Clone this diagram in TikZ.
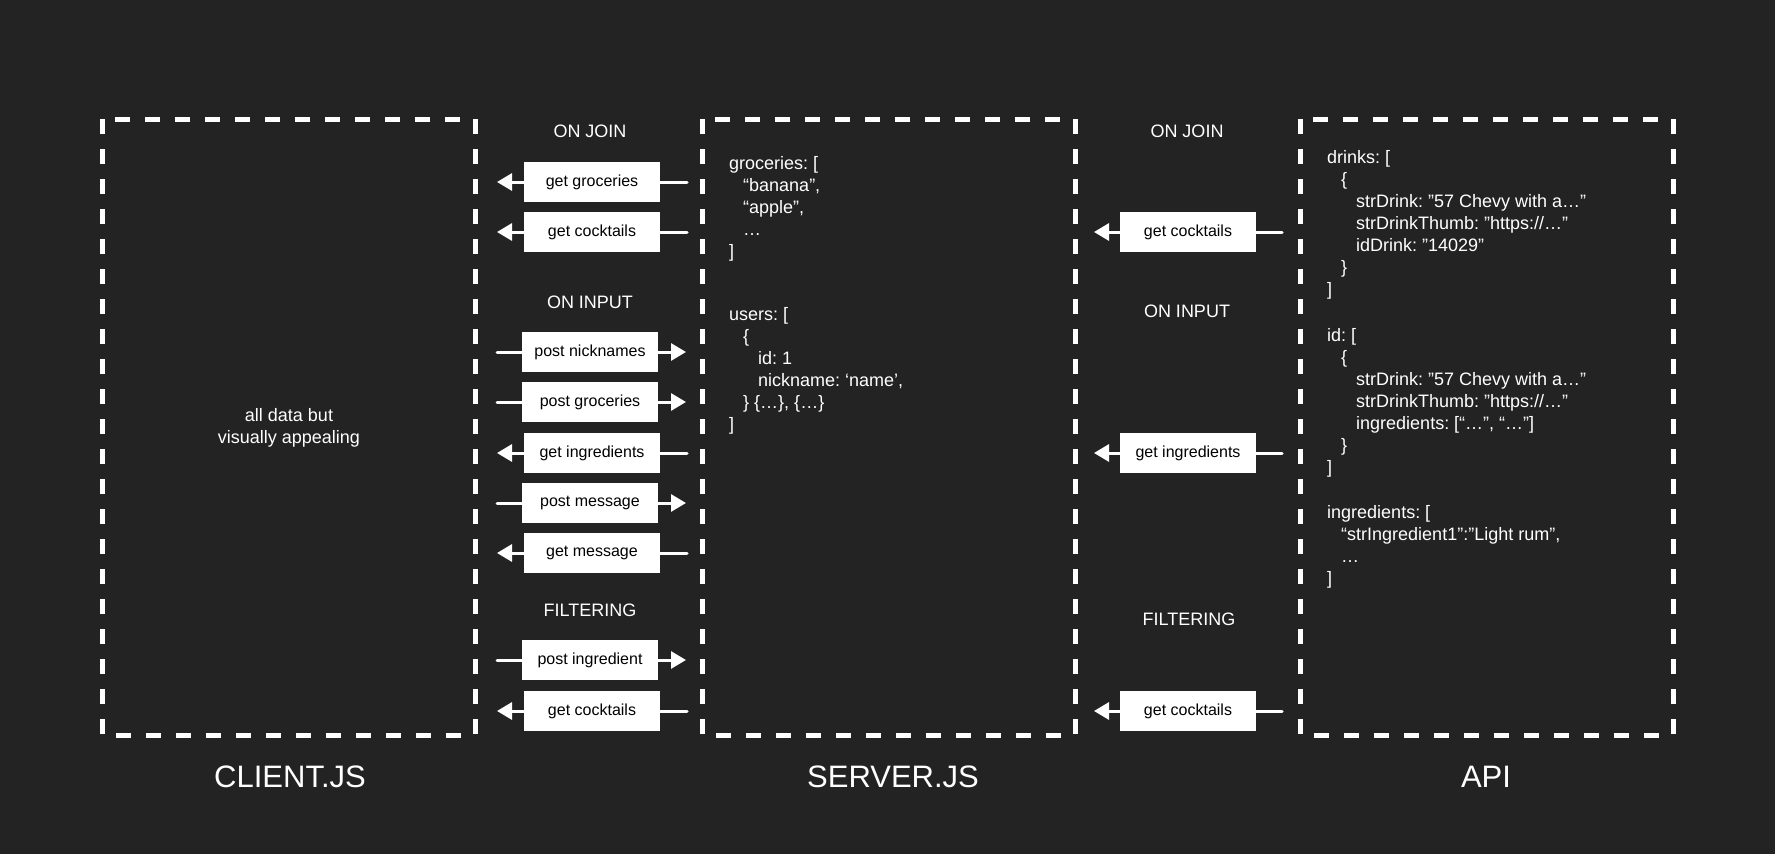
\documentclass[tikz,border=0pt]{standalone}
\usepackage{fontspec}
\setmainfont{Liberation Sans}
\usetikzlibrary{arrows.meta}
\definecolor{bgdark}{RGB}{35,35,35}
\frenchspacing

\begin{document}
\begin{tikzpicture}[x=1pt,y=-1pt,
    part/.style={draw=white,line width=5pt,dash pattern=on 15pt off 15pt},
    call/.style={fill=white,text=black,font=\fontsize{16}{19}\selectfont,
      minimum width=136pt,minimum height=40pt,inner sep=0pt},
    event/.style={text=white,font=\fontsize{18}{22}\selectfont},
    code/.style={text=white,font=\fontsize{18}{22}\selectfont,align=left,
      anchor=north west,inner sep=0pt},
    title/.style={text=white,font=\fontsize{31}{36}\selectfont},
    wire/.style={draw=white,line width=3pt,line cap=round},
    flow/.style={wire,-{Triangle[width=17pt,length=15pt]}}]
  \useasboundingbox[fill=bgdark] (0,0) rectangle (1775,854);
  % the three parts
  \draw[part] (102,119) rectangle (475,735);
  \draw[part] (702,119) rectangle (1075,735);
  \draw[part] (1300,119) rectangle (1673,735);
  \node[title] (client) at (290,777) {CLIENT.JS};
  \node[title] (server) at (893,777) {SERVER.JS};
  \node[title] (api) at (1486,777) {API};
  \node[event,align=center] (view) at (289,428) {all data but\\visually appealing};
  % client <-> server
  \node[event] (join1) at (590,131) {ON JOIN};
  \node[event] (input1) at (590,302) {ON INPUT};
  \node[event] (filter1) at (590,610) {FILTERING};
  \coordinate (gg-c) at (497,182); \coordinate (gg-s) at (687,182);
  \coordinate (gc-c) at (497,232); \coordinate (gc-s) at (687,232);
  \coordinate (pn-c) at (497,352); \coordinate (pn-s) at (686,352);
  \coordinate (pg-c) at (497,402); \coordinate (pg-s) at (686,402);
  \coordinate (gi-c) at (497,453); \coordinate (gi-s) at (687,453);
  \coordinate (pm-c) at (497,503); \coordinate (pm-s) at (686,503);
  \coordinate (gm-c) at (497,553); \coordinate (gm-s) at (687,553);
  \coordinate (pi-c) at (497,660); \coordinate (pi-s) at (686,660);
  \coordinate (gf-c) at (497,711); \coordinate (gf-s) at (687,711);
  \node[call] (gg) at (592,182) {get groceries};
  \node[call] (gc) at (592,232) {get cocktails};
  \node[call] (pn) at (590,352) {post nicknames};
  \node[call] (pg) at (590,402) {post groceries};
  \node[call] (gi) at (592,453) {get ingredients};
  \node[call] (pm) at (590,503) {post message};
  \node[call] (gm) at (592,553) {get message};
  \node[call] (pi) at (590,660) {post ingredient};
  \node[call] (gf) at (592,711) {get cocktails};
  \draw[wire] (gg-s) -- (gg); \draw[flow] (gg) -- (gg-c);
  \draw[wire] (gc-s) -- (gc); \draw[flow] (gc) -- (gc-c);
  \draw[wire] (pn-c) -- (pn); \draw[flow] (pn) -- (pn-s);
  \draw[wire] (pg-c) -- (pg); \draw[flow] (pg) -- (pg-s);
  \draw[wire] (gi-s) -- (gi); \draw[flow] (gi) -- (gi-c);
  \draw[wire] (pm-c) -- (pm); \draw[flow] (pm) -- (pm-s);
  \draw[wire] (gm-s) -- (gm); \draw[flow] (gm) -- (gm-c);
  \draw[wire] (pi-c) -- (pi); \draw[flow] (pi) -- (pi-s);
  \draw[wire] (gf-s) -- (gf); \draw[flow] (gf) -- (gf-c);
  % server <-> api
  \node[event] (join2) at (1187,131) {ON JOIN};
  \node[event] (input2) at (1187,311) {ON INPUT};
  \node[event] (filter2) at (1189,619) {FILTERING};
  \coordinate (ac-s) at (1094,232); \coordinate (ac-a) at (1282,232);
  \coordinate (ai-s) at (1094,453); \coordinate (ai-a) at (1282,453);
  \coordinate (af-s) at (1094,711); \coordinate (af-a) at (1282,711);
  \node[call] (ac) at (1188,232) {get cocktails};
  \node[call] (ai) at (1188,453) {get ingredients};
  \node[call] (af) at (1188,711) {get cocktails};
  \draw[wire] (ac-a) -- (ac); \draw[flow] (ac) -- (ac-s);
  \draw[wire] (ai-a) -- (ai); \draw[flow] (ai) -- (ai-s);
  \draw[wire] (af-a) -- (af); \draw[flow] (af) -- (af-s);
  % server data
  \node[code] (groceries) at (729,156) {groceries: [\\
    \hspace*{14pt}“banana”,\\
    \hspace*{14pt}“apple”,\\
    \hspace*{14pt}…\\
    ]};
  \node[code] (users) at (729,307) {users: [\\
    \hspace*{14pt}\{\\
    \hspace*{29pt}id: 1\\
    \hspace*{29pt}nickname: ‘name’,\\
    \hspace*{14pt}\} \{…\}, \{…\}\\
    ]};
  % api data
  \node[code] (drinks) at (1327,150) {drinks: [\\
    \hspace*{14pt}\{\\
    \hspace*{29pt}strDrink: ”57 Chevy with a…”\\
    \hspace*{29pt}strDrinkThumb: ”https://…”\\
    \hspace*{29pt}idDrink: ”14029”\\
    \hspace*{14pt}\}\\
    ]};
  \node[code] (ids) at (1327,328) {id: [\\
    \hspace*{14pt}\{\\
    \hspace*{29pt}strDrink: ”57 Chevy with a…”\\
    \hspace*{29pt}strDrinkThumb: ”https://…”\\
    \hspace*{29pt}ingredients: [“…”, “…”]\\
    \hspace*{14pt}\}\\
    ]};
  \node[code] (ingredients) at (1327,505) {ingredients: [\\
    \hspace*{14pt}“strIngredient1”:”Light rum”,\\
    \hspace*{14pt}…\\
    ]};
\end{tikzpicture}
\end{document}
